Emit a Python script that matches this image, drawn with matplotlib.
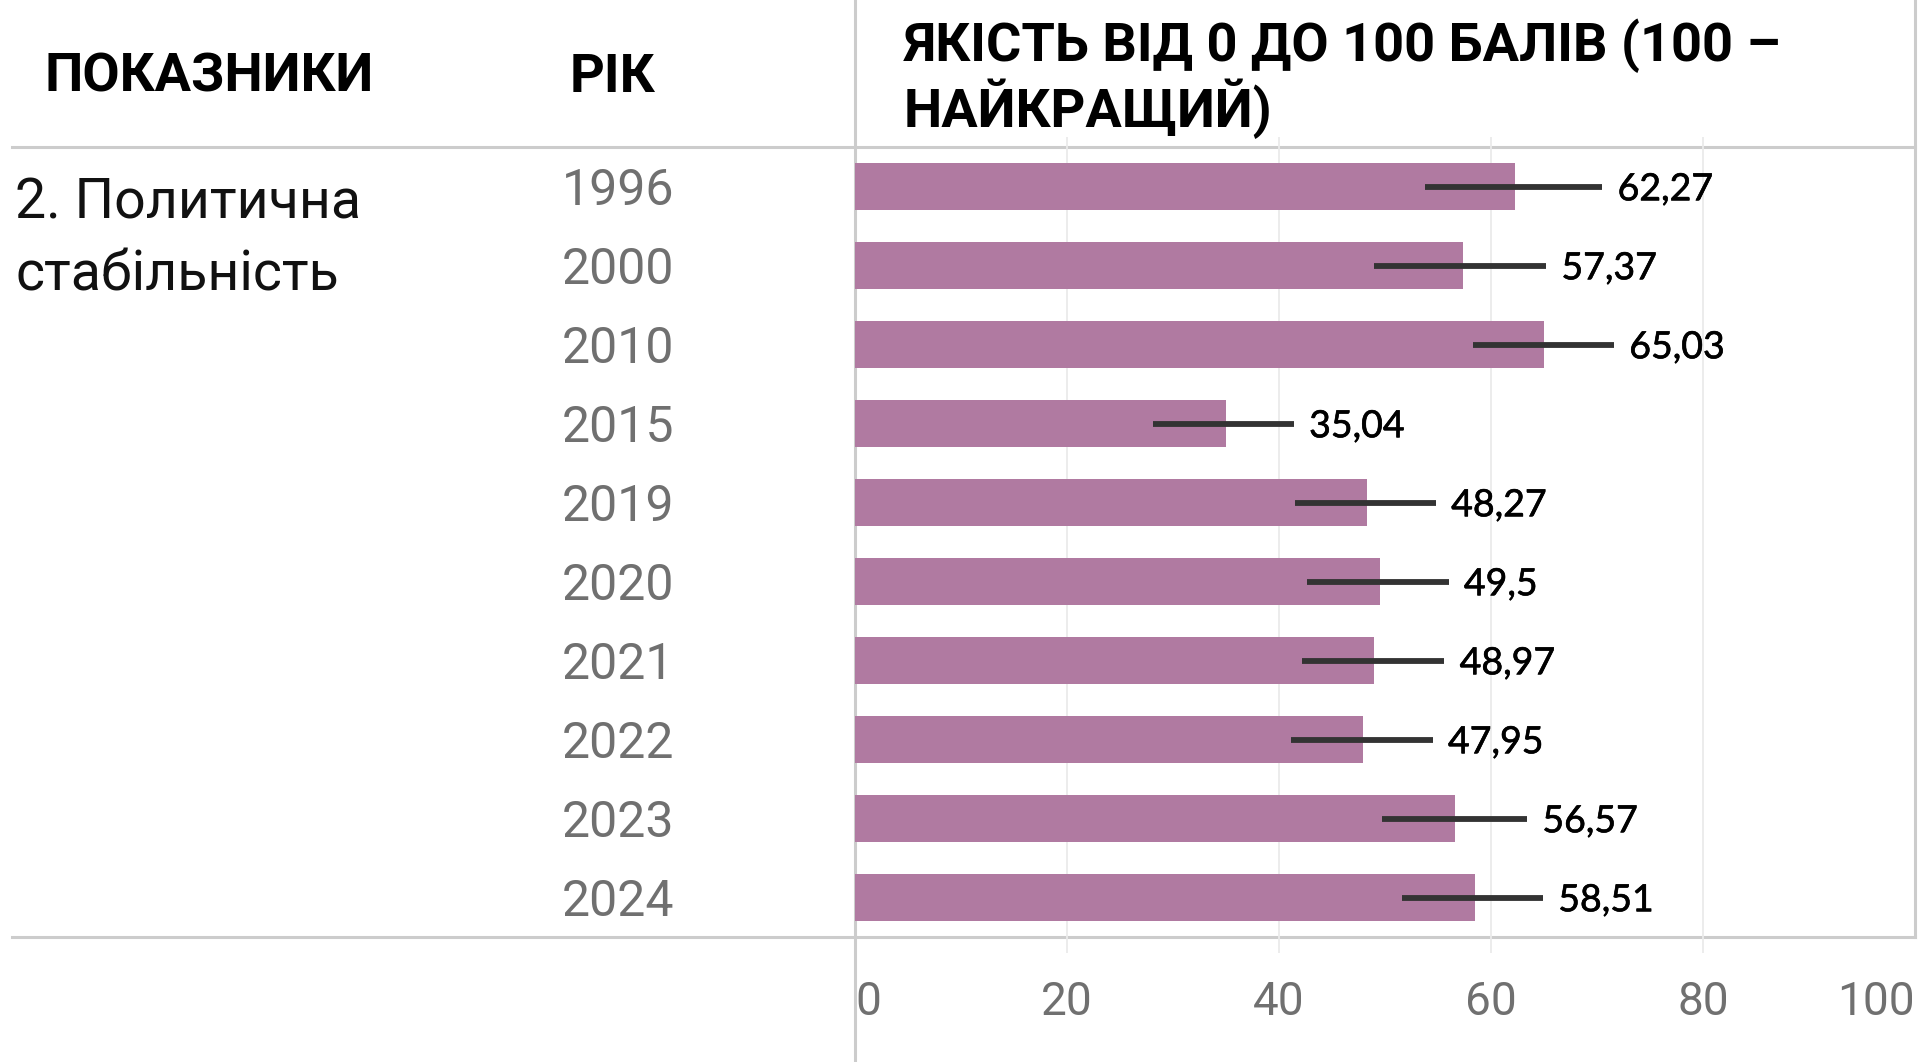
import matplotlib.pyplot as plt
import matplotlib.patheffects as pe
from matplotlib.lines import Line2D

years = ['1996', '2000', '2010', '2015', '2019', '2020', '2021', '2022', '2023', '2024']
values = [62.27, 57.37, 65.03, 35.04, 48.27, 49.5, 48.97, 47.95, 56.57, 58.51]
err_low = [53.8, 49.0, 58.3, 28.1, 41.5, 42.6, 42.2, 41.1, 49.7, 51.6]
err_high = [70.5, 65.2, 71.6, 41.4, 54.8, 56.0, 55.6, 54.5, 63.4, 64.9]
xticks = [0, 20, 40, 60, 80, 100]

W, H = 1921, 1062
fig = plt.figure(figsize=(W / 100, H / 100), dpi=100)

# background layer in pixel coords for table lines and headers
bg = fig.add_axes([0, 0, 1, 1])
bg.set_xlim(0, W)
bg.set_ylim(H, 0)
bg.axis('off')

border = '#cccccc'
bg.add_line(Line2D([12, 1915], [147, 147], color=border, lw=2.2))
bg.add_line(Line2D([12, 1915], [937, 937], color=border, lw=2.2))
bg.add_line(Line2D([855, 855], [0, H], color=border, lw=2.2))
bg.add_line(Line2D([1915, 1915], [0, 937], color=border, lw=2.2))

hdr = dict(family='Roboto', fontweight='bold', fontsize=39, color='black', va='center')
bg.text(45, 77, 'ПОКАЗНИКИ', **hdr)
bg.text(570, 77, 'РІК', **hdr)
bg.text(904, 46, 'ЯКІСТЬ ВІД 0 ДО 100 БАЛІВ (100 –', **hdr)
bg.text(904, 109, 'НАЙКРАЩИЙ)', **hdr)

row_lbl = dict(family='Roboto', fontsize=40, color='#111111', va='center')
bg.text(15, 203, '2. Политична', **row_lbl)
bg.text(15, 275, 'стабільність', **row_lbl)

# chart area
ax = fig.add_axes([855 / W, 1 - 937 / H, (1915 - 855) / W, (937 - 147) / H])
ax.set_xlim(0, 100)
ax.set_ylim(len(years) - 0.5, -0.5)
ax.axis('off')

rows = list(range(len(years)))
ax.vlines(xticks[1:-1], -0.5 - 10 / 79, len(years) - 0.5 + 16 / 79,
          color='#ebebeb', lw=1.3, zorder=0, clip_on=False)
ax.barh(rows, values, height=0.59, color='#b07aa1', zorder=2)
ax.hlines(rows, err_low, err_high, color='#333333', lw=4.2, zorder=3)

for r, v, hi in zip(rows, values, err_high):
    lbl = ('%g' % v).replace('.', ',')
    ax.annotate(lbl, (hi, r), xytext=(11, -2), textcoords='offset points',
                family='Lato', fontsize=27, va='center', ha='left', color='black',
                path_effects=[pe.withStroke(linewidth=0.45, foreground='black')])

for r, y in zip(rows, years):
    ax.annotate(y, (0, r), xytext=(-130, -3), textcoords='offset points',
                family='Roboto', fontsize=36, va='center',
                ha='right', color='#707070')

for t in xticks:
    ha = 'left' if t == 0 else ('right' if t == 100 else 'center')
    ax.text(t, -0.082, str(t), transform=ax.get_xaxis_transform(), family='Roboto',
            fontsize=33, va='center', ha=ha, color='#707070')

fig.savefig('out.png', dpi=100)
